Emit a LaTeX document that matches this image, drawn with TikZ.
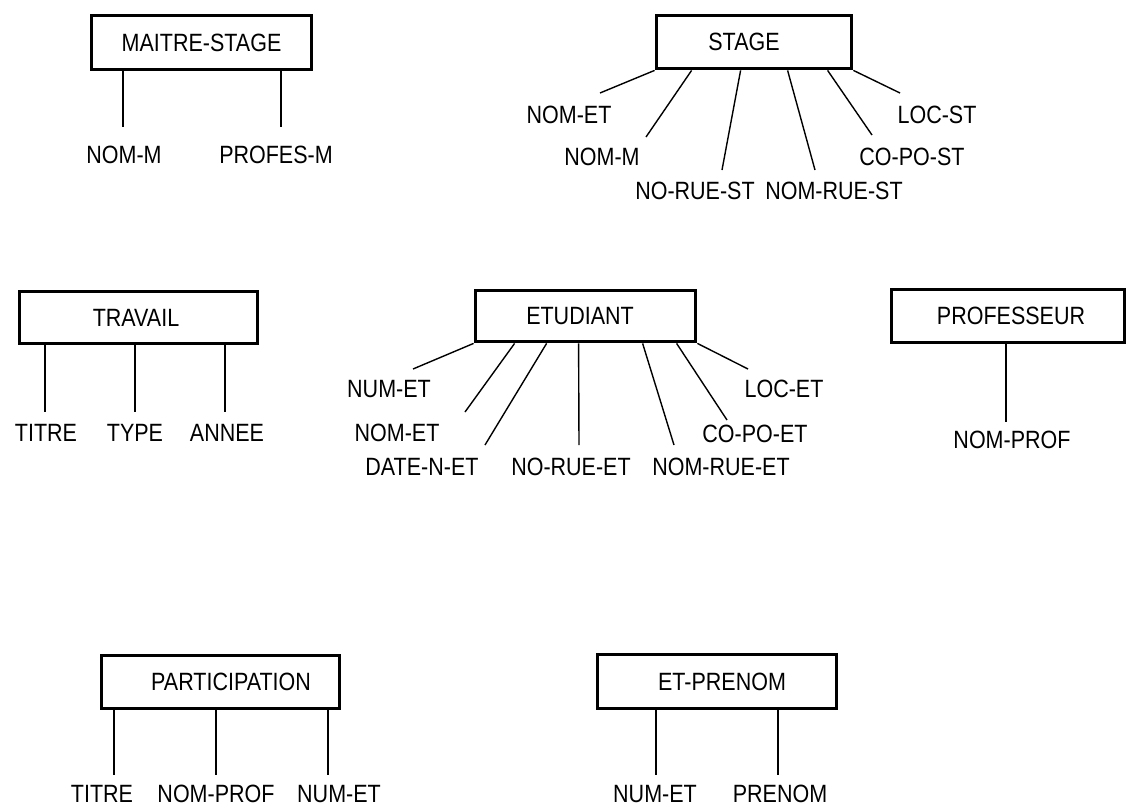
\documentclass[tikz,border=0pt]{standalone}
\usepackage{fontspec}
\setmainfont[FakeStretch=0.86]{Liberation Sans}
\begin{document}
\begin{tikzpicture}[x=1pt,y=-1pt,
  txt/.style={font=\fontsize{25}{28}\selectfont},
  ent/.style={txt,draw,line width=3.8pt,inner sep=0pt},
  attr/.style={txt,inner sep=0pt},
  lnk/.style={line width=1.4pt}]
\useasboundingbox[fill=white] (0,0) rectangle (1128,807);

% MAITRE-STAGE
\node[ent,minimum width=220pt,minimum height=54pt] (ms) at (201.5,42.5) {MAITRE-STAGE};
\node[attr] (ms-nomm) at (124,155) {NOM-M};
\node[attr] (ms-prof) at (276,155) {PROFES-M};
\coordinate (msa) at (123,127);
\coordinate (msb) at (281,127);
\draw[lnk] (ms.south -| msa) -- (msa);
\draw[lnk] (ms.south -| msb) -- (msb);

% STAGE
\node[ent,minimum width=195pt,minimum height=53pt] (st) at (754,42) {\raisebox{-4pt}{\hspace*{-20pt}STAGE}};
\node[attr] (st-nomet) at (569,115) {NOM-ET};
\node[attr] (st-nomm) at (602,157) {NOM-M};
\node[attr] (st-norue) at (695,191) {NO-RUE-ST};
\node[attr] (st-nomrue) at (834,191) {NOM-RUE-ST};
\node[attr] (st-copo) at (912,157) {CO-PO-ST};
\node[attr] (st-loc) at (937,115) {LOC-ST};
\coordinate (sta) at (600,93);
\coordinate (stb) at (646,137);
\coordinate (stc) at (722,170);
\coordinate (std) at (815,170);
\coordinate (ste) at (872,135);
\coordinate (stf) at (900,93);
\draw[lnk] (st.south west) -- (sta);
\draw[lnk] ([xshift=37pt]st.south west) -- (stb);
\draw[lnk] ([xshift=86pt]st.south west) -- (stc);
\draw[lnk] ([xshift=133pt]st.south west) -- (std);
\draw[lnk] ([xshift=173pt]st.south west) -- (ste);
\draw[lnk] (st.south east) -- (stf);

% TRAVAIL
\node[ent,minimum width=238pt,minimum height=52pt] (tr) at (138.5,317.5) {\raisebox{-3pt}{\hspace*{-5pt}TRAVAIL}};
\node[attr] (tr-titre) at (46,433) {TITRE};
\node[attr] (tr-type) at (135,433) {TYPE};
\node[attr] (tr-annee) at (227,433) {ANNEE};
\coordinate (tra) at (45,412);
\coordinate (trb) at (135,412);
\coordinate (trc) at (225,412);
\draw[lnk] (tr.south -| tra) -- (tra);
\draw[lnk] (tr.south -| trb) -- (trb);
\draw[lnk] (tr.south -| trc) -- (trc);

% ETUDIANT
\node[ent,minimum width=220pt,minimum height=51pt] (et) at (585.5,316) {\hspace*{-11pt}ETUDIANT};
\node[attr] (et-num) at (389,389) {NUM-ET};
\node[attr] (et-nom) at (397,433) {NOM-ET};
\node[attr] (et-date) at (422,467) {DATE-N-ET};
\node[attr] (et-norue) at (571,467) {NO-RUE-ET};
\node[attr] (et-nomrue) at (721,467) {NOM-RUE-ET};
\node[attr] (et-copo) at (755,434) {CO-PO-ET};
\node[attr] (et-loc) at (784,389) {LOC-ET};
\coordinate (eta) at (413,369);
\coordinate (etb) at (465,412);
\coordinate (etc) at (485,445);
\coordinate (etd) at (579,445);
\coordinate (ete) at (674,445);
\coordinate (etf) at (727,420);
\coordinate (etg) at (748,369);
\draw[lnk] (et.south west) -- (eta);
\draw[lnk] ([xshift=41pt]et.south west) -- (etb);
\draw[lnk] ([xshift=73pt]et.south west) -- (etc);
\draw[lnk] ([xshift=105pt]et.south west) -- (etd);
\draw[lnk] ([xshift=169pt]et.south west) -- (ete);
\draw[lnk] ([xshift=203pt]et.south west) -- (etf);
\draw[lnk] (et.south east) -- (etg);

% PROFESSEUR
\node[ent,minimum width=233pt,minimum height=53pt] (pr) at (1008,316) {\raisebox{-4pt}{\hspace*{6pt}PROFESSEUR}};
\node[attr] (pr-nom) at (1012,440) {NOM-PROF};
\coordinate (pra) at (1006,422);
\draw[lnk] (pr.south -| pra) -- (pra);

% PARTICIPATION
\node[ent,minimum width=238pt,minimum height=53pt] (pa) at (220.5,682) {\hspace*{21pt}PARTICIPATION};
\node[attr] (pa-titre) at (102,794) {TITRE};
\node[attr] (pa-nom) at (216,794) {NOM-PROF};
\node[attr] (pa-num) at (339,794) {NUM-ET};
\coordinate (paa) at (114,775);
\coordinate (pab) at (216,775);
\coordinate (pac) at (328,775);
\draw[lnk] (pa.south -| paa) -- (paa);
\draw[lnk] (pa.south -| pab) -- (pab);
\draw[lnk] (pa.south -| pac) -- (pac);

% ET-PRENOM
\node[ent,minimum width=239pt,minimum height=54pt] (ep) at (717,681.5) {\hspace*{10pt}ET-PRENOM};
\node[attr] (ep-num) at (655,794) {NUM-ET};
\node[attr] (ep-pre) at (780,794) {PRENOM};
\coordinate (epa) at (656,775);
\coordinate (epb) at (778,775);
\draw[lnk] (ep.south -| epa) -- (epa);
\draw[lnk] (ep.south -| epb) -- (epb);
\end{tikzpicture}
\end{document}
